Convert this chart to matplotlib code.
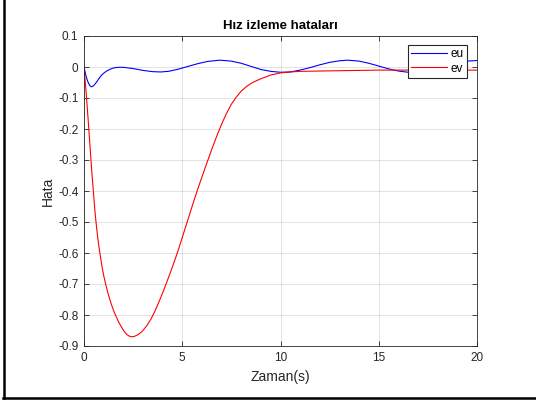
import matplotlib
matplotlib.use("Agg")
import matplotlib.pyplot as plt
from matplotlib.lines import Line2D

plt.rcParams['font.family'] = ['Liberation Sans', 'DejaVu Sans']

# Velocity tracking errors over time
t_eu = [0, 0.05, 0.1, 0.15, 0.2, 0.25, 0.3, 0.37, 0.45, 0.52, 0.6, 0.7, 0.8,
        0.9, 1.0, 1.15, 1.3, 1.45, 1.6, 1.8, 2.0, 2.25, 2.5, 2.75, 3.0, 3.25,
        3.5, 3.9, 4.3, 4.8, 5.3, 5.8, 6.3, 6.9, 7.5, 8.0, 8.5, 9.0, 9.5, 10.0,
        10.5, 11.0, 11.5, 12.0, 12.5, 13.0, 13.4, 14.0, 14.5, 15.0, 15.5, 16.0,
        16.5, 17.0, 17.5, 18.0, 18.5, 19.0, 19.5, 20.0]
eu = [0, -0.014, -0.028, -0.039, -0.048, -0.055, -0.060, -0.064, -0.062,
      -0.058, -0.052, -0.043, -0.034, -0.026, -0.020, -0.013, -0.008, -0.004,
      -0.002, -0.001, -0.001, -0.003, -0.005, -0.008, -0.011, -0.013, -0.015,
      -0.016, -0.014, -0.007, 0.002, 0.011, 0.018, 0.022, 0.019, 0.012, 0.002,
      -0.008, -0.014, -0.017, -0.016, -0.010, -0.002, 0.007, 0.015, 0.020,
      0.022, 0.019, 0.012, 0.003, -0.006, -0.013, -0.017, -0.016, -0.011,
      -0.003, 0.006, 0.014, 0.019, 0.021]

t_ev = [0, 0.1, 0.2, 0.3, 0.4, 0.5, 0.55, 0.6, 0.65, 0.7, 0.75, 0.8, 0.9, 1.0,
        1.1, 1.2, 1.3, 1.4, 1.5, 1.6, 1.7, 1.8, 1.9, 2.0, 2.1, 2.2, 2.3, 2.4,
        2.5, 2.6, 2.7, 2.8, 2.9, 3.0, 3.2, 3.4, 3.6, 3.8, 4.0, 4.2, 4.4, 4.6,
        4.8, 5.0, 5.25, 5.5, 5.75, 6.0, 6.25, 6.5, 6.75, 7.0, 7.25, 7.5, 7.75,
        8.0, 8.25, 8.5, 8.75, 9.0, 9.5, 10.0, 10.5, 11, 12, 13, 14, 15, 16, 17,
        18, 19, 20]
ev = [0, -0.075, -0.16, -0.25, -0.34, -0.42, -0.46, -0.493, -0.523, -0.550,
      -0.575, -0.597, -0.638, -0.672, -0.700, -0.725, -0.747, -0.767, -0.785,
      -0.800, -0.814, -0.827, -0.838, -0.849, -0.857, -0.864, -0.868, -0.870,
      -0.870, -0.868, -0.865, -0.861, -0.856, -0.850, -0.834, -0.814, -0.789,
      -0.760, -0.729, -0.696, -0.662, -0.627, -0.590, -0.550, -0.500, -0.450,
      -0.401, -0.355, -0.310, -0.266, -0.224, -0.185, -0.150, -0.120, -0.097,
      -0.078, -0.064, -0.053, -0.045, -0.038, -0.026, -0.019, -0.016, -0.014,
      -0.013, -0.012, -0.011, -0.010, -0.010, -0.010, -0.010, -0.010, -0.010]

x_ticks = [0, 5, 10, 15, 20]
y_ticks = [0.1, 0, -0.1, -0.2, -0.3, -0.4, -0.5, -0.6, -0.7, -0.8, -0.9]
y_tick_labels = ['0.1', '0', '-0.1', '-0.2', '-0.3', '-0.4', '-0.5', '-0.6',
                 '-0.7', '-0.8', '-0.9']

W, H = 536, 403
fig = plt.figure(figsize=(W / 100, H / 100), dpi=100)
ax = fig.add_axes([84 / W, 1 - 346 / H, (477 - 84) / W, (346 - 36) / H])

dark = (0.15, 0.15, 0.15)
ax.plot(t_eu, eu, color=(0, 0, 1), lw=0.8, label='eu')
ax.plot(t_ev, ev, color=(1, 0, 0), lw=0.8, label='ev')

ax.set_xlim(0, 20)
ax.set_ylim(-0.9, 0.1)
ax.set_xticks(x_ticks)
ax.set_yticks(y_ticks)
ax.set_yticklabels(y_tick_labels)
ax.grid(True, color=dark, alpha=0.15, lw=0.6)
ax.set_axisbelow(True)
ax.tick_params(direction='in', length=3.5, width=0.6, top=True, right=True,
               colors=dark, labelsize=8.5, pad=4)
for s in ax.spines.values():
    s.set_color(dark)
    s.set_linewidth(0.6)

ax.set_title('Hız izleme hataları', fontsize=9.5, fontweight='bold',
             color='black', pad=5)
ax.set_xlabel('Zaman(s)', fontsize=10, color=dark, labelpad=5)
ax.set_ylabel('Hata', fontsize=10, color=dark, labelpad=2)

leg = ax.legend(loc='upper right', bbox_to_anchor=(0.9746, 0.972),
                borderaxespad=0, fontsize=8.5, fancybox=False, framealpha=1,
                handlelength=3.0, handletextpad=0.3, labelspacing=0.2,
                borderpad=0.3)
leg.get_frame().set_edgecolor(dark)
leg.get_frame().set_linewidth(0.8)

# Outer frame on the left and bottom edges
fig.add_artist(Line2D([4 / W, 4 / W], [1 - 398 / H, 1], color='black',
                      lw=1.8, transform=fig.transFigure))
fig.add_artist(Line2D([3 / W, 1], [1 - 398 / H, 1 - 398 / H], color='black',
                      lw=1.8, transform=fig.transFigure))

fig.savefig('out.png', dpi=100)
